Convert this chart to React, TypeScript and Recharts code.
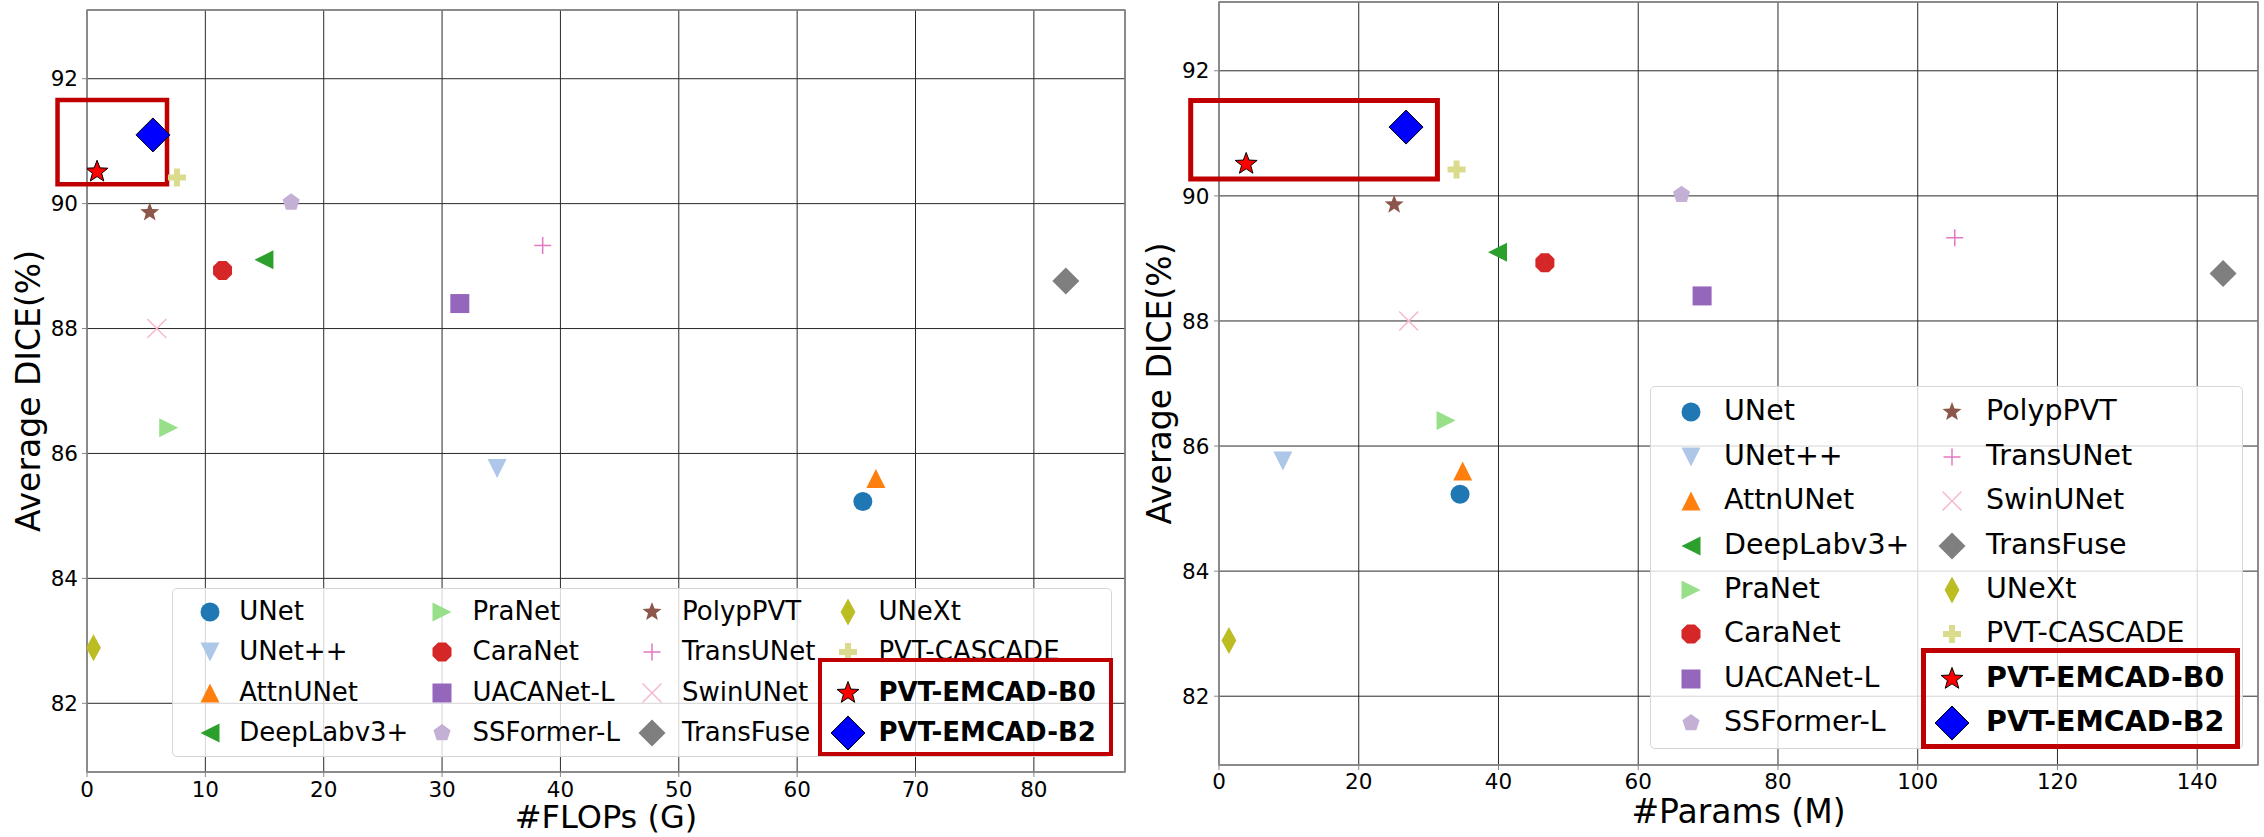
import React from "react";
import { ScatterChart, Scatter, XAxis, YAxis, CartesianGrid, ReferenceArea, Legend } from "recharts";

const models = [
  "UNet", "UNet++", "AttnUNet", "DeepLabv3+", "PraNet", "CaraNet", "UACANet-L", "SSFormer-L",
  "PolypPVT", "TransUNet", "SwinUNet", "TransFuse", "UNeXt", "PVT-CASCADE", "PVT-EMCAD-B0", "PVT-EMCAD-B2",
];
const dice = [85.23, 85.76, 85.6, 89.1, 86.41, 88.93, 88.4, 90.02, 89.86, 89.33, 88.0, 88.76, 82.89, 90.42, 90.51, 91.1];
const flops = [65.55, 34.65, 66.65, 14.95, 6.9, 11.45, 31.5, 17.25, 5.3, 38.5, 5.9, 82.7, 0.55, 7.6, 0.85, 5.57];
const params = [34.5, 9.14, 34.88, 39.86, 32.5, 46.64, 69.14, 66.2, 25.07, 105.3, 27.15, 143.7, 1.42, 34.0, 3.89, 26.77];
const flopsTicks = [0, 10, 20, 30, 40, 50, 60, 70, 80];
const paramsTicks = [0, 20, 40, 60, 80, 100, 120, 140];
const diceTicks = [82, 84, 86, 88, 90, 92];
const highlighted = ["PVT-EMCAD-B0", "PVT-EMCAD-B2"];

// marker styling (matplotlib-ish)
const colors = [
  "#1f77b4", "#aec7e8", "#ff7f0e", "#2ca02c", "#98df8a", "#d62728", "#9467bd", "#c5b0d5",
  "#8c564b", "#e377c2", "#f7b6d2", "#7f7f7f", "#bcbd22", "#dbdb8d", "#ff0000", "#0000ff",
];
const shapes = ["o", "v", "^", "<", ">", "8", "s", "p", "*", "+", "x", "D", "d", "P", "*", "D"];
const sizes = [19, 19, 19, 19, 19, 19, 19, 18, 20, 17, 19, 27, 27, 18, 23, 34];

const FONT = '"DejaVu Sans", Verdana, sans-serif';
const HL = "#c00000";

function Glyph({ i }: { i: number }) {
  const kind = shapes[i];
  const h = sizes[i] / 2;
  const fill = colors[i];
  const edge = highlighted.includes(models[i]);
  const solid = { fill, stroke: edge ? "#000" : "none", strokeWidth: edge ? 1 : 0 };
  const poly = (pts: number[][]) => <polygon points={pts.map((p) => p.join(",")).join(" ")} {...solid} />;
  const ring = (n: number, r: number, start: number, inner?: number) =>
    Array.from({ length: n }, (_, k) => {
      const rr = inner !== undefined && k % 2 === 1 ? inner : r;
      const a = ((start + (360 / n) * k) * Math.PI) / 180;
      return [rr * Math.cos(a), rr * Math.sin(a)];
    });
  switch (kind) {
    case "o":
      return <circle r={h} {...solid} />;
    case "v":
      return poly([[0, h], [-h, -h], [h, -h]]);
    case "^":
      return poly([[0, -h], [-h, h], [h, h]]);
    case "<":
      return poly([[-h, 0], [h, -h], [h, h]]);
    case ">":
      return poly([[h, 0], [-h, -h], [-h, h]]);
    case "8":
      return poly(ring(8, h / Math.cos(Math.PI / 8), 22.5));
    case "s":
      return <rect x={-h} y={-h} width={2 * h} height={2 * h} {...solid} />;
    case "p":
      return poly(ring(5, h, -90));
    case "*":
      return poly(ring(10, h, -90, h * 0.42));
    case "+":
      return (
        <g stroke={fill} strokeWidth={1.5}>
          <line x1={-h} y1={0} x2={h} y2={0} />
          <line x1={0} y1={-h} x2={0} y2={h} />
        </g>
      );
    case "x":
      return (
        <g stroke={fill} strokeWidth={1.5}>
          <line x1={-h} y1={-h} x2={h} y2={h} />
          <line x1={-h} y1={h} x2={h} y2={-h} />
        </g>
      );
    case "D":
      return poly([[0, -h], [h, 0], [0, h], [-h, 0]]);
    case "d":
      return poly([[0, -h], [0.55 * h, 0], [0, h], [-0.55 * h, 0]]);
    case "P": {
      const a = h / 3;
      return poly([
        [-a, -h], [a, -h], [a, -a], [h, -a], [h, a], [a, a],
        [a, h], [-a, h], [-a, a], [-h, a], [-h, -a], [-a, -a],
      ]);
    }
    default:
      return null;
  }
}

type LegendCfg = {
  left: number; top: number; w: number; h: number; rows: number;
  markerX: number[]; textX: number[]; row0: number; rowStep: number; fontSize: number;
  hl: { x: number; y: number; w: number; h: number; sw: number };
};

function LegendBox({ cfg }: { cfg: LegendCfg }) {
  const b = 1;
  return (
    <div
      style={{
        position: "relative", width: cfg.w, height: cfg.h, boxSizing: "border-box",
        border: `${b}px solid #d6d6d6`, borderRadius: 5, background: "rgba(255,255,255,0.8)",
        fontFamily: FONT, fontSize: cfg.fontSize, color: "#000",
      }}
    >
      {models.map((m, i) => {
        const col = Math.floor(i / cfg.rows);
        const row = i % cfg.rows;
        const cy = cfg.row0 + row * cfg.rowStep - b;
        return (
          <React.Fragment key={m}>
            <svg
              width={44} height={44}
              style={{ position: "absolute", left: cfg.markerX[col] - b - 22, top: cy - 22, overflow: "visible" }}
            >
              <g transform="translate(22,22)"><Glyph i={i} /></g>
            </svg>
            <span
              style={{
                position: "absolute", left: cfg.textX[col] - b, top: cy, transform: "translateY(-52%)",
                lineHeight: 1, whiteSpace: "nowrap", fontWeight: highlighted.includes(m) ? "bold" : "normal",
              }}
            >
              {m}
            </span>
          </React.Fragment>
        );
      })}
      <div
        style={{
          position: "absolute", boxSizing: "border-box",
          left: cfg.hl.x - cfg.hl.sw / 2 - b, top: cfg.hl.y - cfg.hl.sw / 2 - b,
          width: cfg.hl.w + cfg.hl.sw, height: cfg.hl.h + cfg.hl.sw,
          border: `${cfg.hl.sw}px solid ${HL}`,
        }}
      />
    </div>
  );
}

// axis titles take their own coordinates (Recharts clones labels with x/y of its own)
function XTitle({ px, py, text, size }: { px: number; py: number; text: string; size: number }) {
  return (
    <text x={px} y={py} textAnchor="middle" fontSize={size} fontFamily={FONT} fill="#000">
      {text}
    </text>
  );
}

function YTitle({ px, py, text, size }: { px: number; py: number; text: string; size: number }) {
  return (
    <text transform={`translate(${px},${py}) rotate(-90)`} textAnchor="middle" fontSize={size} fontFamily={FONT} fill="#000">
      {text}
    </text>
  );
}

type PanelCfg = {
  xs: number[]; xTicks: number[]; xMax: number; xTitle: string; xTitleSize: number; xTitleBase: number;
  left: number; width: number; top: number; right: number; yAxisWidth: number; xAxisHeight: number;
  xTickGap: number; yTickGap: number; yTitleX: number;
  box: { x1: number; x2: number; y1: number; y2: number; sw: number };
  legend: LegendCfg;
};

const H = 837;
const Y_MIN = 80.9;
const Y_MAX = 93.1;

const panels: PanelCfg[] = [
  {
    xs: flops, xTicks: flopsTicks, xMax: 87.7, xTitle: "#FLOPs (G)", xTitleSize: 32, xTitleBase: 828,
    left: 0, width: 1130, top: 10, right: 5, yAxisWidth: 87, xAxisHeight: 65,
    xTickGap: 10, yTickGap: 9, yTitleX: 40,
    box: { x1: -2.49, x2: 6.76, y1: 90.31, y2: 91.66, sw: 4.5 },
    legend: {
      left: 172, top: 587.7, w: 940, h: 169.6, rows: 4,
      markerX: [37.7, 270.4, 480.2, 676.1], textX: [67.2, 300.6, 510, 706.4],
      row0: 24, rowStep: 40.5, fontSize: 26,
      hl: { x: 648.4, y: 72.1, w: 290.8, h: 94, sw: 4.5 },
    },
  },
  {
    xs: params, xTicks: paramsTicks, xMax: 148.7, xTitle: "#Params (M)", xTitleSize: 33, xTitleBase: 823,
    left: 1130, width: 1134, top: 2, right: 6, yAxisWidth: 89, xAxisHeight: 72,
    xTickGap: 9, yTickGap: 9.6, yTitleX: 41,
    box: { x1: -4.05, x2: 31.26, y1: 90.27, y2: 91.525, sw: 5 },
    legend: {
      left: 520, top: 385.5, w: 593, h: 363.5, rows: 8,
      markerX: [40.7, 302.3], textX: [74, 336],
      row0: 26.8, rowStep: 44.4, fontSize: 28.5,
      hl: { x: 273.1, y: 265.3, w: 314.2, h: 95.9, sw: 5 },
    },
  },
];

function Panel({ p }: { p: PanelCfg }) {
  const plotLeft = p.yAxisWidth;
  const plotRight = p.width - p.right;
  const plotBottom = H - p.xAxisHeight;
  const tickStyle = { fontSize: 21.5, fill: "#000", fontFamily: FONT };
  return (
    <div style={{ position: "absolute", left: p.left, top: 0, width: p.width, height: H }}>
      <ScatterChart width={p.width} height={H} margin={{ top: p.top, right: p.right, bottom: 0, left: 0 }}>
        <CartesianGrid stroke="#2a2a2a" strokeWidth={1} />
        <XAxis
          type="number" dataKey="x" domain={[0, p.xMax]} ticks={p.xTicks} allowDataOverflow interval={0}
          height={p.xAxisHeight} axisLine={false} tickLine={{ stroke: "#888" }} tickSize={5}
          tickMargin={p.xTickGap - 5} tick={tickStyle}
          label={<XTitle px={(plotLeft + plotRight) / 2} py={p.xTitleBase} text={p.xTitle} size={p.xTitleSize} />}
        />
        <YAxis
          type="number" dataKey="y" domain={[Y_MIN, Y_MAX]} ticks={diceTicks} allowDataOverflow interval={0}
          width={p.yAxisWidth} axisLine={false} tickLine={{ stroke: "#888" }} tickSize={5}
          tickMargin={p.yTickGap - 5} tick={tickStyle}
          label={<YTitle px={p.yTitleX} py={(p.top + plotBottom) / 2} text="Average DICE(%)" size={33} />}
        />
        <ReferenceArea
          x1={0} x2={p.xMax} y1={Y_MIN} y2={Y_MAX} ifOverflow="visible"
          fill="none" fillOpacity={0} stroke="#888" strokeWidth={1.5}
        />
        {models.map((m, i) => (
          <Scatter
            key={m} name={m} data={[{ x: p.xs[i], y: dice[i] }]} isAnimationActive={false}
            shape={(s: any) => (
              <g transform={`translate(${s.cx},${s.cy})`}>
                <Glyph i={i} />
              </g>
            )}
          />
        ))}
        <ReferenceArea
          x1={p.box.x1} x2={p.box.x2} y1={p.box.y1} y2={p.box.y2} ifOverflow="visible"
          fill="none" fillOpacity={0} stroke={HL} strokeWidth={p.box.sw}
        />
        <Legend
          layout="horizontal" verticalAlign="middle" align="center"
          wrapperStyle={{ left: p.legend.left, top: p.legend.top, width: p.legend.w, height: p.legend.h }}
          content={() => <LegendBox cfg={p.legend} />}
        />
      </ScatterChart>
    </div>
  );
}

export default function App() {
  return (
    <div style={{ position: "absolute", left: 0, top: 0, width: 2264, height: H, background: "#fff" }}>
      {panels.map((p) => (
        <Panel key={p.xTitle} p={p} />
      ))}
    </div>
  );
}
